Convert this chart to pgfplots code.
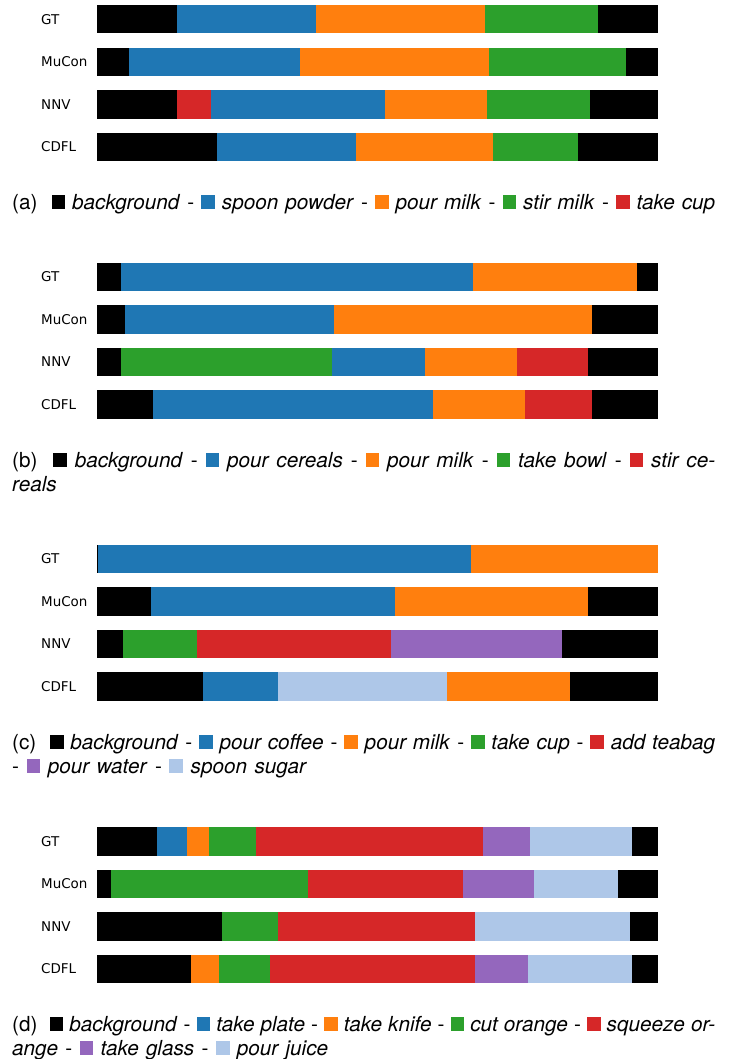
\documentclass[border=0pt]{standalone}
\usepackage{pgfplots}
\pgfplotsset{compat=1.18}
\usepackage{fontspec}
\setmainfont{TeX Gyre Heros}
\newfontfamily\dejavu{DejaVu Sans}
\definecolor{tb}{HTML}{1F77B4}
\definecolor{to}{HTML}{FF7F0E}
\definecolor{tg}{HTML}{2CA02C}
\definecolor{tr}{HTML}{D62728}
\definecolor{tp}{HTML}{9467BD}
\definecolor{tl}{HTML}{AEC7E8}
\definecolor{tk}{HTML}{000000}
% segment: row, start, end, colour
\newcommand\seg[4]{%
  \edef\segtmp{\noexpand\addplot[fill=#4,draw=none] coordinates {%
    (#2,\ifcase#1 -0.335\or 0.665\or 1.665\or 2.665\fi)
    (#3,\ifcase#1 -0.335\or 0.665\or 1.665\or 2.665\fi)
    (#3,\ifcase#1 0.335\or 1.335\or 2.335\or 3.335\fi)
    (#2,\ifcase#1 0.335\or 1.335\or 2.335\or 3.335\fi)} -- cycle;}%
  \segtmp}
\newcommand\sq[1]{\textcolor{#1}{\rule{0.66em}{0.66em}}}
\pgfplotsset{seq/.style={scale only axis, width=561bp, height=156bp,
  xmin=0, xmax=561, ymin=-0.335, ymax=3.335, y dir=reverse,
  axis line style={draw=none}, xtick=\empty, ytick={0,1,2,3},
  yticklabels={GT,MuCon,NNV,CDFL}, major tick length=0pt,
  yticklabel style={anchor=west, inner sep=0pt, xshift=-56bp,
    font=\dejavu\fontsize{13.5}{16}\selectfont},
  anchor=north west, clip=false}}
\begin{document}
\begin{tikzpicture}[x=1bp,y=1bp]
\path[use as bounding box] (0,0) rectangle (730,-1059);
% (a)
\begin{axis}[seq, at={(97bp,-5bp)}]
\seg{0}{0}{80.3}{tk}\seg{0}{80.3}{219.3}{tb}\seg{0}{219.3}{388.3}{to}\seg{0}{388.3}{501.3}{tg}\seg{0}{501.3}{561}{tk}
\seg{1}{0}{31.7}{tk}\seg{1}{31.7}{203}{tb}\seg{1}{203}{392.3}{to}\seg{1}{392.3}{529.3}{tg}\seg{1}{529.3}{561}{tk}
\seg{2}{0}{80.3}{tk}\seg{2}{80.3}{114.3}{tr}\seg{2}{114.3}{287.7}{tb}\seg{2}{287.7}{390.3}{to}\seg{2}{390.3}{493.3}{tg}\seg{2}{493.3}{561}{tk}
\seg{3}{0}{120.3}{tk}\seg{3}{120.3}{259.3}{tb}\seg{3}{259.3}{396.3}{to}\seg{3}{396.3}{481}{tg}\seg{3}{481}{561}{tk}
\end{axis}
% (b)
\begin{axis}[seq, at={(97bp,-262.6bp)}]
\seg{0}{0}{23.7}{tk}\seg{0}{23.7}{376.3}{tb}\seg{0}{376.3}{539.7}{to}\seg{0}{539.7}{561}{tk}
\seg{1}{0}{27.7}{tk}\seg{1}{27.7}{237.3}{tb}\seg{1}{237.3}{495.3}{to}\seg{1}{495.3}{561}{tk}
\seg{2}{0}{23.7}{tk}\seg{2}{23.7}{235}{tg}\seg{2}{235}{328}{tb}\seg{2}{328}{420.3}{to}\seg{2}{420.3}{491.3}{tr}\seg{2}{491.3}{561}{tk}
\seg{3}{0}{56}{tk}\seg{3}{56}{336}{tb}\seg{3}{336}{428.3}{to}\seg{3}{428.3}{495.3}{tr}\seg{3}{495.3}{561}{tk}
\end{axis}
% (c)
\begin{axis}[seq, at={(97bp,-544.6bp)}]
\seg{0}{0}{1.3}{tk}\seg{0}{1.3}{374.3}{tb}\seg{0}{374.3}{561}{to}
\seg{1}{0}{54}{tk}\seg{1}{54}{297.7}{tb}\seg{1}{297.7}{491.3}{to}\seg{1}{491.3}{561}{tk}
\seg{2}{0}{25.7}{tk}\seg{2}{25.7}{100.3}{tg}\seg{2}{100.3}{293.7}{tr}\seg{2}{293.7}{465}{tp}\seg{2}{465}{561}{tk}
\seg{3}{0}{106.3}{tk}\seg{3}{106.3}{180.7}{tb}\seg{3}{180.7}{350}{tl}\seg{3}{350}{473}{to}\seg{3}{473}{561}{tk}
\end{axis}
% (d)
\begin{axis}[seq, at={(97bp,-827bp)}]
\seg{0}{0}{60}{tk}\seg{0}{60}{90.3}{tb}\seg{0}{90.3}{112.3}{to}\seg{0}{112.3}{158.7}{tg}\seg{0}{158.7}{386.3}{tr}\seg{0}{386.3}{432.7}{tp}\seg{0}{432.7}{535.3}{tl}\seg{0}{535.3}{561}{tk}
\seg{1}{0}{13.7}{tk}\seg{1}{13.7}{211}{tg}\seg{1}{211}{366.3}{tr}\seg{1}{366.3}{436.7}{tp}\seg{1}{436.7}{521.3}{tl}\seg{1}{521.3}{561}{tk}
\seg{2}{0}{124.7}{tk}\seg{2}{124.7}{180.7}{tg}\seg{2}{180.7}{378.3}{tr}\seg{2}{378.3}{533.3}{tl}\seg{2}{533.3}{561}{tk}
\seg{3}{0}{94.3}{tk}\seg{3}{94.3}{122.3}{to}\seg{3}{122.3}{172.7}{tg}\seg{3}{172.7}{378.3}{tr}\seg{3}{378.3}{430.7}{tp}\seg{3}{430.7}{535.3}{tl}\seg{3}{535.3}{561}{tk}
\end{axis}
% captions
\tikzset{capt/.style={anchor=base west, inner sep=0pt, font=\fontsize{20.8}{25}\selectfont}}
\node[capt] at (12,-209) {\makebox[703bp][s]{(a)\ \ \sq{tk} \textit{background} - \sq{tb} \textit{spoon powder} - \sq{to} \textit{pour milk} - \sq{tg} \textit{stir milk} - \sq{tr} \textit{take cup}}};
\node[capt] at (12,-467) {\makebox[703bp][s]{(b)\ \ \sq{tk} \textit{background} - \sq{tb} \textit{pour cereals} - \sq{to} \textit{pour milk} - \sq{tg} \textit{take bowl} - \sq{tr} \textit{stir ce-}}};
\node[capt] at (12,-491) {\textit{reals}};
\node[capt] at (12,-749) {\makebox[703bp][s]{(c)\ \ \sq{tk} \textit{background} - \sq{tb} \textit{pour coffee} - \sq{to} \textit{pour milk} - \sq{tg} \textit{take cup} - \sq{tr} \textit{add teabag}}};
\node[capt] at (12,-773) {\makebox[295bp][s]{- \sq{tp} \textit{pour water} - \sq{tl} \textit{spoon sugar}}};
\node[capt] at (12,-1031) {\makebox[703bp][s]{(d)\ \ \sq{tk} \textit{background} - \sq{tb} \textit{take plate} - \sq{to} \textit{take knife} - \sq{tg} \textit{cut orange} - \sq{tr} \textit{squeeze or-}}};
\node[capt] at (12,-1055) {\makebox[316bp][s]{\textit{ange} - \sq{tp} \textit{take glass} - \sq{tl} \textit{pour juice}}};
\end{tikzpicture}
\end{document}
